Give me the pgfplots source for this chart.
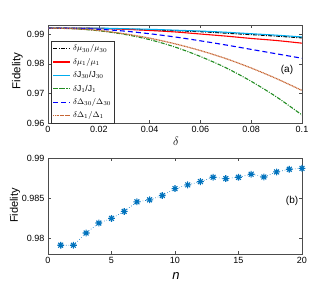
\documentclass[border=0pt]{standalone}
\usepackage{pgfplots}
\pgfplotsset{compat=1.18}
\usepackage{fontspec}
\setmainfont{Liberation Sans}
\definecolor{mblue}{rgb}{0,0.447,0.741}
\definecolor{mbrown}{rgb}{0.78,0.4,0.2}
\definecolor{mgreen}{rgb}{0.13,0.55,0.13}
\pgfdeclareplotmark{mstar}{%
 \pgfpathmoveto{\pgfqpoint{-\pgfplotmarksize}{0pt}}\pgfpathlineto{\pgfqpoint{\pgfplotmarksize}{0pt}}%
 \pgfpathmoveto{\pgfqpoint{0pt}{-\pgfplotmarksize}}\pgfpathlineto{\pgfqpoint{0pt}{\pgfplotmarksize}}%
 \pgfpathmoveto{\pgfqpoint{-0.707\pgfplotmarksize}{-0.707\pgfplotmarksize}}\pgfpathlineto{\pgfqpoint{0.707\pgfplotmarksize}{0.707\pgfplotmarksize}}%
 \pgfpathmoveto{\pgfqpoint{-0.707\pgfplotmarksize}{0.707\pgfplotmarksize}}\pgfpathlineto{\pgfqpoint{0.707\pgfplotmarksize}{-0.707\pgfplotmarksize}}%
 \pgfusepathqstroke}
\begin{document}
\begin{tikzpicture}
\useasboundingbox (0,0) rectangle (327pt,290pt);
\pgfplotsset{
  every axis/.append style={
    scale only axis,
    axis line style={black!70},
    tick style={black!70, line width=0.4pt},
    tick align=inside,
    major tick length=3pt,
    tick label style={font=\fontsize{9}{10}\selectfont},
    /pgf/number format/assume math mode=true,
  },
}
\begin{axis}[
  at={(48pt,167pt)}, anchor=south west,
  width=254pt, height=98pt,
  xmin=0, xmax=0.1, ymin=0.96, ymax=0.99315,
  xtick={0,0.02,0.04,0.06,0.08,0.1},
  xticklabels={0,0.02,0.04,0.06,0.08,0.1},
  ytick={0.96,0.97,0.98,0.99},
  yticklabels={0.96,0.97,0.98,0.99},
  scaled x ticks=false, scaled y ticks=false,
  xlabel={$\delta$}, ylabel={Fidelity},
  xlabel style={at={(axis description cs:0.504,-0.184)}, anchor=center, font=\fontsize{12}{12}\selectfont},
  ylabel style={at={(axis description cs:-0.12,0.53)}, anchor=center, font=\fontsize{11.5}{12}\selectfont},
  legend style={at={(0.012,0)}, anchor=south west, draw=black!80, fill=white,
    font=\fontsize{8.5}{9}\selectfont, inner sep=1.5pt, row sep=1.8pt, cells={anchor=west}},
  legend cell align=left,
]
\addplot[black, line width=1.1pt, dash pattern=on 4pt off 1.3pt on 1pt off 1.3pt] coordinates {
(0,0.9921) (0.01,0.9921) (0.02,0.9920) (0.03,0.9918) (0.04,0.9915) (0.05,0.9912)
(0.06,0.9909) (0.07,0.9904) (0.08,0.9899) (0.09,0.9894) (0.1,0.9888)};
\addlegendentry{$\delta\mu_{30}/\mu_{30}$}
\addplot[red, line width=1.1pt, smooth] coordinates {
(0,0.9921) (0.01,0.9921) (0.02,0.9920) (0.03,0.9917) (0.04,0.9913) (0.05,0.9908)
(0.06,0.9901) (0.07,0.9894) (0.08,0.9886) (0.09,0.9879) (0.1,0.9870)};
\addlegendentry{$\delta\mu_{1}/\mu_{1}$}
\addplot[cyan, line width=1.1pt, smooth] coordinates {
(0,0.9921) (0.01,0.9921) (0.02,0.9921) (0.03,0.9919) (0.04,0.9917) (0.05,0.9914)
(0.06,0.9911) (0.07,0.9907) (0.08,0.9902) (0.09,0.9897) (0.1,0.9891)};
\addlegendentry{$\delta$J$_{30}$/J$_{30}$}
\addplot[mgreen, line width=1.1pt, smooth, dash pattern=on 4pt off 1.3pt on 1pt off 1.3pt] coordinates {
(0,0.9921) (0.01,0.9919) (0.02,0.9912) (0.03,0.9900) (0.04,0.9882) (0.05,0.9857)
(0.06,0.9825) (0.07,0.9787) (0.08,0.9741) (0.09,0.9688) (0.1,0.9627)};
\addlegendentry{$\delta$J$_{1}$/J$_{1}$}
\addplot[blue, line width=1.1pt, smooth, dash pattern=on 5pt off 3pt] coordinates {
(0,0.9921) (0.01,0.9920) (0.02,0.9917) (0.03,0.9911) (0.04,0.9902) (0.05,0.9891)
(0.06,0.9878) (0.07,0.9864) (0.08,0.9849) (0.09,0.9834) (0.1,0.9819)};
\addlegendentry{$\delta\Delta_{30}/\Delta_{30}$}
\addplot[mbrown, line width=1.2pt, smooth, dash pattern=on 1pt off 0.6pt] coordinates {
(0,0.9921) (0.01,0.9919) (0.02,0.9913) (0.03,0.9902) (0.04,0.9887) (0.05,0.9868)
(0.06,0.9845) (0.07,0.9818) (0.08,0.9786) (0.09,0.9750) (0.1,0.9710)};
\addlegendentry{$\delta\Delta_{1}/\Delta_{1}$}
\node[font=\fontsize{10}{11}\selectfont] at (rel axis cs:0.941,0.541) {(a)};
\end{axis}
\begin{axis}[
  at={(48pt,36pt)}, anchor=south west,
  width=254pt, height=96pt,
  xmin=0, xmax=20, ymin=0.978, ymax=0.99,
  xtick={0,5,10,15,20},
  ytick={0.98,0.985,0.99},
  yticklabels={0.98,0.985,0.99},
  scaled y ticks=false,
  xlabel={\textit{n}}, ylabel={Fidelity},
  xlabel style={at={(axis description cs:0.504,-0.233)}, anchor=center, font=\fontsize{13}{13}\selectfont},
  ylabel style={at={(axis description cs:-0.13,0.505)}, anchor=center, font=\fontsize{11}{12}\selectfont},
]
\addplot[mblue, line width=0.6pt, dotted, mark=mstar, mark size=3.4pt, mark options={solid, line width=1.1pt}] coordinates {
(1,0.9791) (2,0.9791) (3,0.98062) (4,0.98187) (5,0.98245) (6,0.98332) (7,0.98452)
(8,0.98477) (9,0.98531) (10,0.98618) (11,0.98664) (12,0.98705) (13,0.98759)
(14,0.98743) (15,0.98759) (16,0.98797) (17,0.98763) (18,0.98826) (19,0.98859) (20,0.98871)};
\node[font=\fontsize{10}{11}\selectfont] at (rel axis cs:0.961,0.548) {(b)};
\end{axis}
\end{tikzpicture}
\end{document}
